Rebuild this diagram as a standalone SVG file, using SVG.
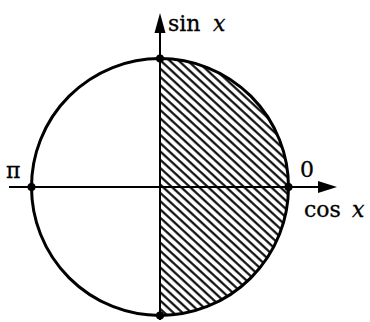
<svg xmlns="http://www.w3.org/2000/svg" width="370" height="322" viewBox="0 0 370 322">
<style>
.lbl{font-family:"DejaVu Serif","Liberation Serif",serif;font-size:22px;fill:#000;stroke:#000;stroke-width:0.3}
.it{font-style:italic}
.ax{stroke:#000;stroke-width:2;fill:none}
</style>
<defs>
<pattern id="hatch" patternUnits="userSpaceOnUse" width="10" height="6.1" patternTransform="rotate(42.6)">
<line x1="-1" y1="3" x2="11" y2="3" stroke="#000" stroke-width="2.1"/>
</pattern>
<clipPath id="rh"><rect x="160" y="0" width="200" height="322"/></clipPath>
</defs>
<rect width="370" height="322" fill="#fff"/>
<g id="shaded">
<circle cx="160" cy="187" r="128.5" fill="url(#hatch)" clip-path="url(#rh)"/>
</g>
<g id="circle">
<circle cx="160" cy="187" r="128.5" fill="none" stroke="#000" stroke-width="3"/>
</g>
<g id="connectors">
<line class="ax" x1="9" y1="187" x2="322" y2="187"/>
<polygon points="337,187 318,181 318,193" fill="#000"/>
<line class="ax" x1="160" y1="320" x2="160" y2="30"/>
<polygon points="160,13 154.5,33 165.5,33" fill="#000"/>
</g>
<g id="points">
<circle cx="160" cy="58.5" r="4"/>
<circle cx="160" cy="315.5" r="4"/>
<circle cx="31.5" cy="187" r="4"/>
<circle cx="288.5" cy="187" r="4"/>
</g>
<g id="labels">
<text class="lbl" x="168" y="31">sin</text>
<text class="lbl it" x="213" y="31" font-size="24">x</text>
<text class="lbl" x="300" y="177">0</text>
<text class="lbl" x="304" y="217">cos</text>
<text class="lbl it" x="352" y="217" font-size="24">x</text>
<text class="lbl" x="6" y="178">π</text>
</g>
</svg>
